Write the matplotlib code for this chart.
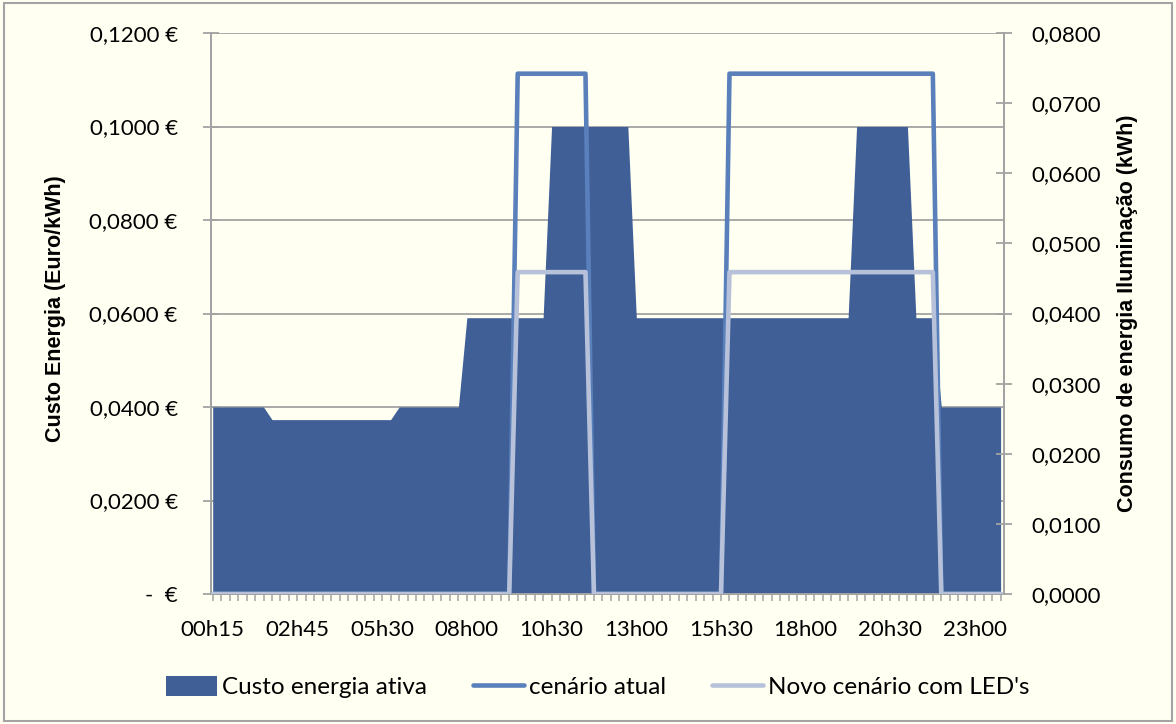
import matplotlib
matplotlib.use("Agg")
import matplotlib.pyplot as plt
from matplotlib.patches import Patch, Rectangle
from matplotlib.lines import Line2D
from matplotlib.ticker import FuncFormatter

plt.rcParams["font.family"] = ["Lato", "DejaVu Sans"]

# custo da energia ativa por quarto de hora (Euro/kWh), 94 registos
custo_energia = [
    0.0400, 0.0400, 0.0400, 0.0400, 0.0400, 0.0400, 0.0400, 0.0373, 0.0373, 0.0373,
    0.0373, 0.0373, 0.0373, 0.0373, 0.0373, 0.0373, 0.0373, 0.0373, 0.0373, 0.0373,
    0.0373, 0.0373, 0.0400, 0.0400, 0.0400, 0.0400, 0.0400, 0.0400, 0.0400, 0.0400,
    0.0591, 0.0591, 0.0591, 0.0591, 0.0591, 0.0591, 0.0591, 0.0591, 0.0591, 0.0591,
    0.1000, 0.1000, 0.1000, 0.1000, 0.1000, 0.1000, 0.1000, 0.1000, 0.1000, 0.1000,
    0.0591, 0.0591, 0.0591, 0.0591, 0.0591, 0.0591, 0.0591, 0.0591, 0.0591, 0.0591,
    0.0591, 0.0591, 0.0591, 0.0591, 0.0591, 0.0591, 0.0591, 0.0591, 0.0591, 0.0591,
    0.0591, 0.0591, 0.0591, 0.0591, 0.0591, 0.0591, 0.1000, 0.1000, 0.1000, 0.1000,
    0.1000, 0.1000, 0.1000, 0.0591, 0.0591, 0.0591, 0.0400, 0.0400, 0.0400, 0.0400,
    0.0400, 0.0400, 0.0400, 0.0400,
]

# consumo da iluminacao (kWh), cenario atual
cenario_atual = [
    0, 0, 0, 0, 0, 0, 0, 0, 0, 0,
    0, 0, 0, 0, 0, 0, 0, 0, 0, 0,
    0, 0, 0, 0, 0, 0, 0, 0, 0, 0,
    0, 0, 0, 0, 0, 0, 0.0742, 0.0742, 0.0742, 0.0742,
    0.0742, 0.0742, 0.0742, 0.0742, 0.0742, 0, 0, 0, 0, 0,
    0, 0, 0, 0, 0, 0, 0, 0, 0, 0,
    0, 0.0742, 0.0742, 0.0742, 0.0742, 0.0742, 0.0742, 0.0742, 0.0742, 0.0742,
    0.0742, 0.0742, 0.0742, 0.0742, 0.0742, 0.0742, 0.0742, 0.0742, 0.0742, 0.0742,
    0.0742, 0.0742, 0.0742, 0.0742, 0.0742, 0.0742, 0, 0, 0, 0,
    0, 0, 0, 0,
]

# consumo da iluminacao (kWh), novo cenario com LED's
cenario_led = [
    0, 0, 0, 0, 0, 0, 0, 0, 0, 0,
    0, 0, 0, 0, 0, 0, 0, 0, 0, 0,
    0, 0, 0, 0, 0, 0, 0, 0, 0, 0,
    0, 0, 0, 0, 0, 0, 0.0459, 0.0459, 0.0459, 0.0459,
    0.0459, 0.0459, 0.0459, 0.0459, 0.0459, 0, 0, 0, 0, 0,
    0, 0, 0, 0, 0, 0, 0, 0, 0, 0,
    0, 0.0459, 0.0459, 0.0459, 0.0459, 0.0459, 0.0459, 0.0459, 0.0459, 0.0459,
    0.0459, 0.0459, 0.0459, 0.0459, 0.0459, 0.0459, 0.0459, 0.0459, 0.0459, 0.0459,
    0.0459, 0.0459, 0.0459, 0.0459, 0.0459, 0.0459, 0, 0, 0, 0,
    0, 0, 0, 0,
]

# rotulos do eixo x (um em cada 10 registos)
horas_ticks = ["00h15", "02h45", "05h30", "08h00", "10h30",
               "13h00", "15h30", "18h00", "20h30", "23h00"]

FUNDO = "#FFFFF2"
CINZA = "#A3A3A3"
COR_CUSTO = "#3F5F96"
COR_ATUAL = "#5A80BB"
COR_LED = "#B7C1D9"
FS = 16
BOLD_FONT = ["Liberation Sans", "DejaVu Sans"]

x = list(range(len(custo_energia)))

fig = plt.figure(figsize=(11.76, 7.24), dpi=100, facecolor=FUNDO)
ax = fig.add_axes([211 / 1176, 1 - 594 / 724, (1004 - 211) / 1176, (594 - 33) / 724])
ax.set_facecolor(FUNDO)

# area do custo (eixo esquerdo)
ax.fill_between(x, custo_energia, 0, color=COR_CUSTO, linewidth=0, zorder=2)
ax.set_xlim(-0.2, len(x) - 0.6)
ax.set_ylim(0, 0.12)
ax.set_yticks([0, 0.02, 0.04, 0.06, 0.08, 0.10, 0.12])


def fmt_euro(v, pos):
    if abs(v) < 1e-9:
        return "-  €"
    return f"{v:.4f} €".replace(".", ",")


ax.yaxis.set_major_formatter(FuncFormatter(fmt_euro))
ax.grid(axis="y", color=CINZA, linewidth=1.3)
ax.set_axisbelow(True)

ax.set_xticks(range(0, len(x), 10))
ax.set_xticklabels(horas_ticks)
ax.set_xticks(x, minor=True)
ax.tick_params(axis="x", which="both", direction="out", length=5, width=1.1,
               color=CINZA, labelsize=FS, pad=14)
ax.tick_params(axis="y", direction="inout", length=12, width=1.3,
               color=CINZA, labelsize=FS, pad=18)

for side in ["left", "right", "bottom"]:
    ax.spines[side].set_color(CINZA)
    ax.spines[side].set_linewidth(1.3)
ax.spines["top"].set_visible(False)

# linhas do consumo (eixo direito)
ax2 = ax.twinx()
ax2.plot(x, cenario_atual, color=COR_ATUAL, linewidth=3.3,
         solid_joinstyle="round", solid_capstyle="round", zorder=3)
ax2.plot(x, cenario_led, color=COR_LED, linewidth=3.3,
         solid_joinstyle="round", solid_capstyle="round", zorder=4)
ax2.set_ylim(0, 0.08)
ax2.set_yticks([i / 100 for i in range(9)])
ax2.yaxis.set_major_formatter(FuncFormatter(lambda v, p: f"{v:.4f}".replace(".", ",")))
ax2.tick_params(axis="y", direction="inout", length=12, width=1.3,
                color=CINZA, labelsize=FS, pad=14)
for side in ["left", "right", "bottom"]:
    ax2.spines[side].set_color(CINZA)
    ax2.spines[side].set_linewidth(1.3)
ax2.spines["top"].set_visible(False)

fig.text(55 / 1176, 1 - 309 / 724, "Custo Energia (Euro/kWh)", rotation=90,
         ha="center", va="center", fontsize=15.5, fontweight="bold", family=BOLD_FONT)
fig.text(1128 / 1176, 1 - 313 / 724, "Consumo de energia Iluminação (kWh)", rotation=90,
         ha="center", va="center", fontsize=15.5, fontweight="bold", family=BOLD_FONT)

handles = [
    Patch(facecolor=COR_CUSTO, edgecolor="none"),
    Line2D([0], [0], color=COR_ATUAL, linewidth=3.3, solid_capstyle="round"),
    Line2D([0], [0], color=COR_LED, linewidth=3.3, solid_capstyle="round"),
]
labels = ["Custo energia ativa", "cenário atual", "Novo cenário com LED's"]
fig.legend(handles, labels, loc="center", bbox_to_anchor=(598 / 1176, 1 - 687 / 724),
           ncol=3, frameon=False, fontsize=17.5, handlelength=2.1, handleheight=0.9,
           handletextpad=0.2, columnspacing=1.9)

# moldura do grafico
fig.patches.append(Rectangle((4 / 1176, 3 / 724), 1 - 8 / 1176, 1 - 6 / 724,
                             transform=fig.transFigure, fill=False,
                             edgecolor=CINZA, linewidth=1.5))

fig.savefig("out.png", dpi=100, facecolor=FUNDO)
